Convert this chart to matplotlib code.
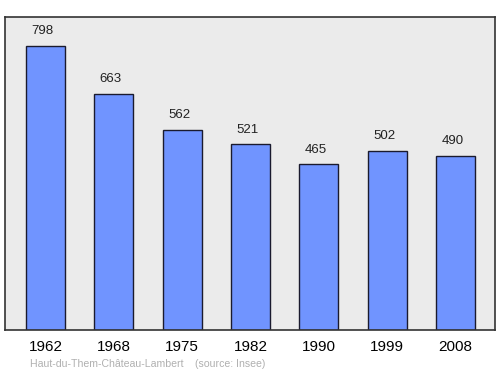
import matplotlib
matplotlib.use("Agg")
import matplotlib.pyplot as plt

years = ["1962", "1968", "1975", "1982", "1990", "1999", "2008"]
population = [798, 663, 562, 521, 465, 502, 490]
caption = "Haut-du-Them-Château-Lambert    (source: Insee)"

plt.rcParams['font.family'] = ['Liberation Sans', 'DejaVu Sans']

W, H = 500, 374
fig = plt.figure(figsize=(5, 3.74), dpi=100)
ax = fig.add_axes([5 / W, 1 - 330 / H, 490 / W, 313 / H])
ax.set_facecolor('#ebebeb')

x = list(range(len(years)))
ax.bar(x, population, width=0.57, color='#7094ff', edgecolor='#1a1a2e', linewidth=1.0, zorder=2)
for xi, v in zip(x, population):
    ax.annotate(str(v), (xi, v), xytext=(-2.2, 6.3), textcoords='offset points',
                ha='center', va='bottom', fontsize=9.5, color='#222222')

ax.set_xlim(-0.593, 6.578)
ax.set_ylim(0, 879)
ax.set_yticks([])
ax.set_xticks(x)
ax.set_xticklabels(years, fontsize=11)
ax.tick_params(axis='x', length=0, pad=7.5)
for s in ax.spines.values():
    s.set_color('#333333')
    s.set_linewidth(1.2)

fig.text(30 / W, 1 - 364 / H, caption, fontsize=7.6, color='#b0b0b0', ha='left', va='center')

fig.savefig("out.png", dpi=100)
